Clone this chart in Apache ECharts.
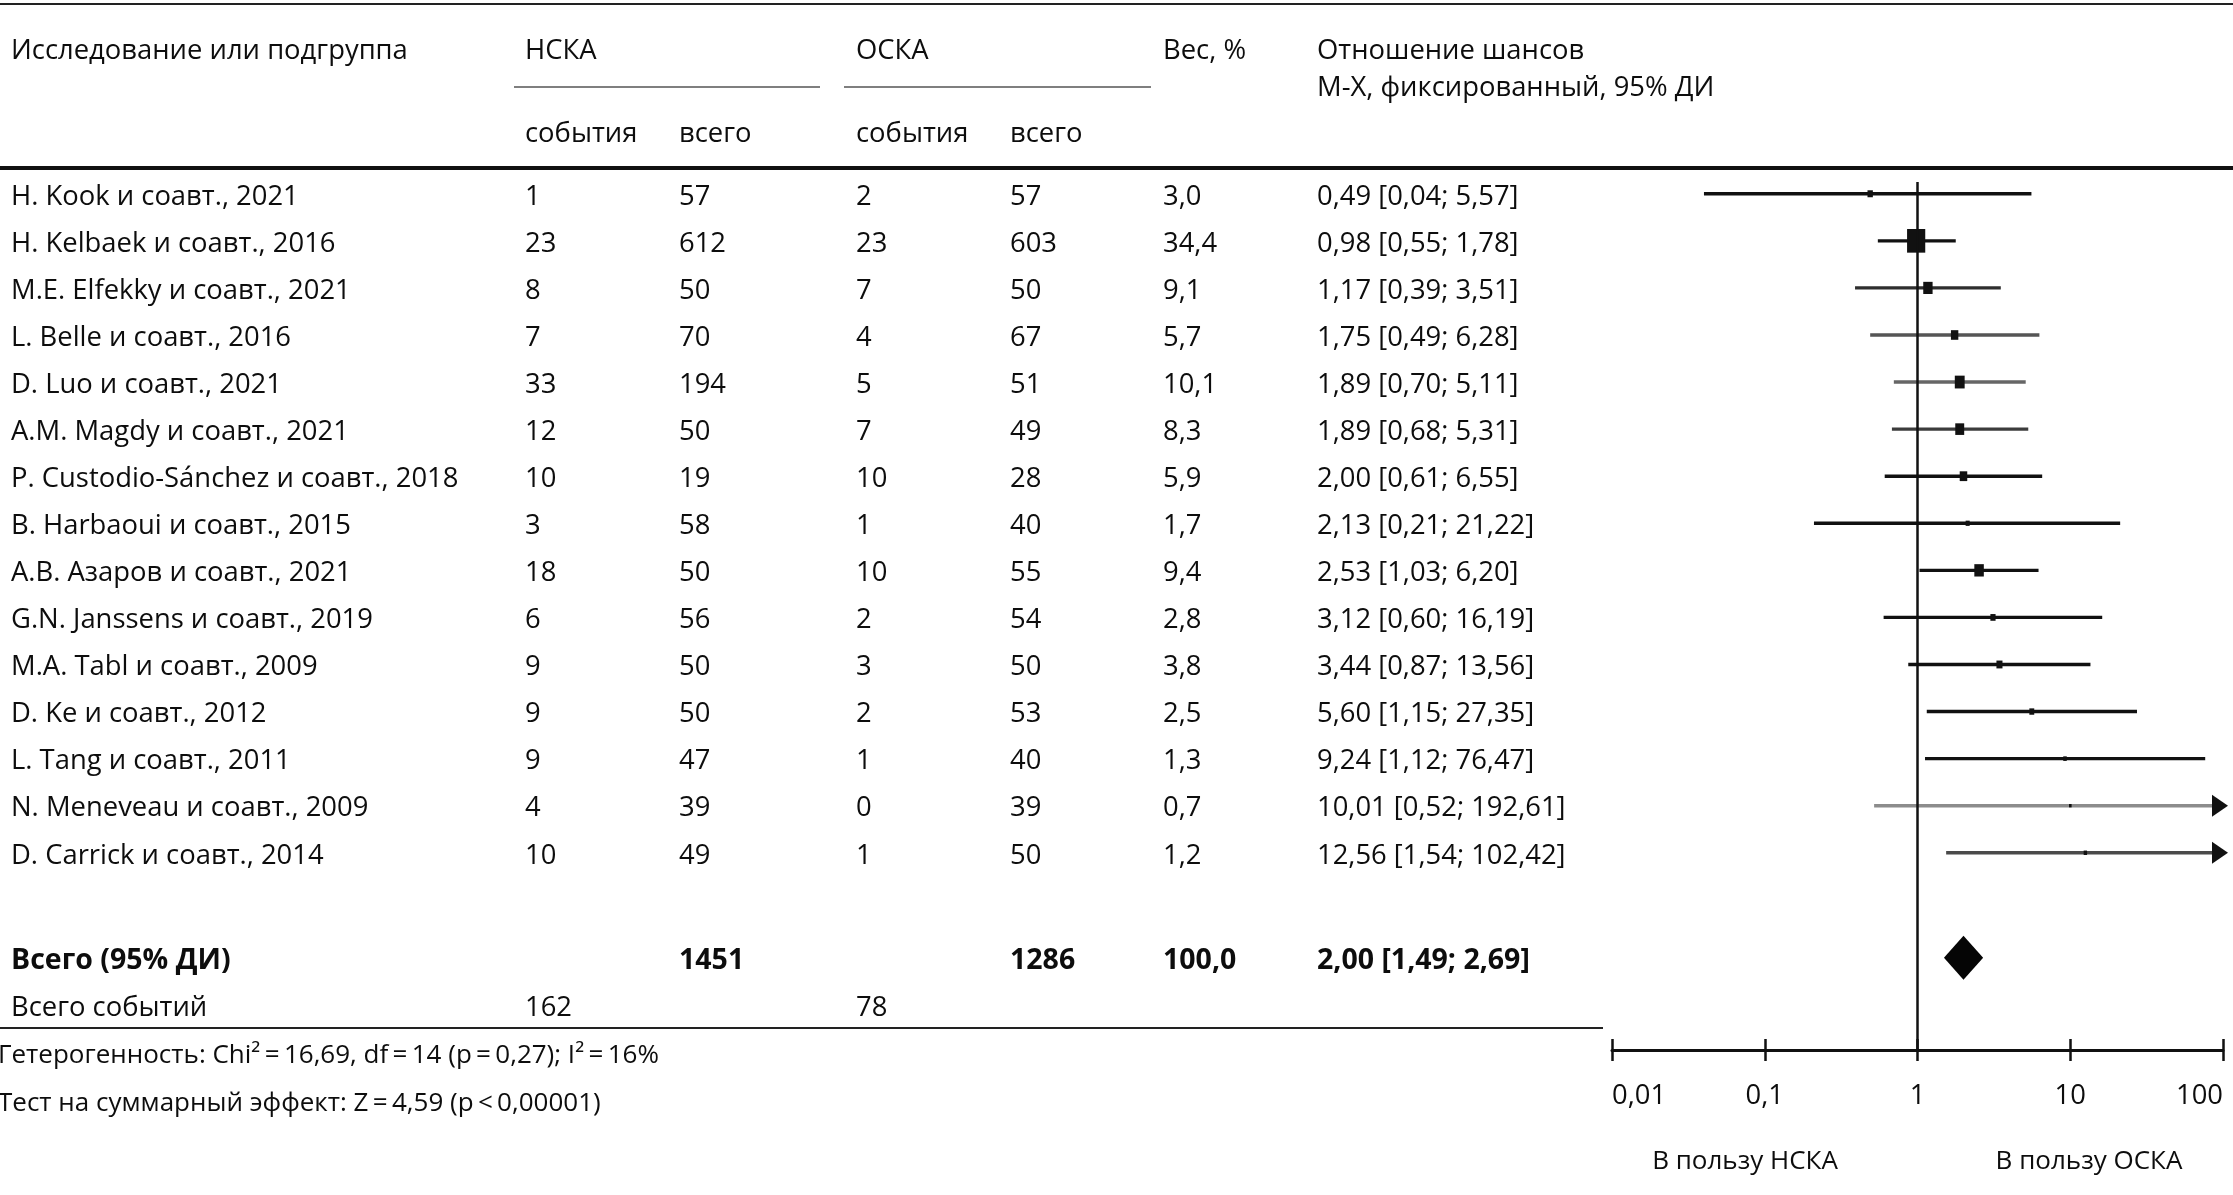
<!DOCTYPE html>
<html>
<head>
<meta charset="utf-8">
<script src="https://cdn.jsdelivr.net/npm/echarts@6/dist/echarts.min.js"></script>
<style>
html,body{margin:0;padding:0;background:#fff;}
#c{width:2233px;height:1195px;}
</style>
</head>
<body>
<div id="c"></div>
<script>
// ---------- DATA ----------
const studies = ['H. Kook и соавт., 2021','H. Kelbaek и соавт., 2016','M.E. Elfekky и соавт., 2021','L. Belle и соавт., 2016','D. Luo и соавт., 2021','A.M. Magdy и соавт., 2021','P. Custodio-Sánchez и соавт., 2018','B. Harbaoui и соавт., 2015','A.B. Азаров и соавт., 2021','G.N. Janssens и соавт., 2019','M.A. Tabl и соавт., 2009','D. Ke и соавт., 2012','L. Tang и соавт., 2011','N. Meneveau и соавт., 2009','D. Carrick и соавт., 2014'];
const nskaEvents = [1,23,8,7,33,12,10,3,18,6,9,9,9,4,10];
const nskaTotal  = [57,612,50,70,194,50,19,58,50,56,50,50,47,39,49];
const oskaEvents = [2,23,7,4,5,7,10,1,10,2,3,2,1,0,1];
const oskaTotal  = [57,603,50,67,51,49,28,40,55,54,50,53,40,39,50];
const weights    = [3.0,34.4,9.1,5.7,10.1,8.3,5.9,1.7,9.4,2.8,3.8,2.5,1.3,0.7,1.2];
const oddsRatio  = [0.49,0.98,1.17,1.75,1.89,1.89,2.00,2.13,2.53,3.12,3.44,5.60,9.24,10.01,12.56];
const ciLow      = [0.04,0.55,0.39,0.49,0.70,0.68,0.61,0.21,1.03,0.60,0.87,1.15,1.12,0.52,1.54];
const ciHigh     = [5.57,1.78,3.51,6.28,5.11,5.31,6.55,21.22,6.20,16.19,13.56,27.35,76.47,192.61,102.42];
const totalN     = [1451, 1286];
const totalEvents = [162, 78];
const totalWeight = 100.0;
const pooled     = [2.00, 1.49, 2.69];
const xTicks     = [0.01, 0.1, 1, 10, 100];

// ---------- STYLE ----------
const lineColors = ['#111','#111','#2e2e2e','#555','#666','#3c3c3c','#111','#111','#111','#111','#111','#111','#111','#8c8c8c','#4a4a4a'];
const FONT = "'Open Sans', 'Noto Sans', sans-serif";
const INK = '#0d0d0d';
const TOTAL_ROW = 16.23, EVENTS_ROW = 17.23;
const DY = 3;
const COLS = {study:11, ne:525, nt:679, oe:856, ot:1010, w:1163, or:1317};

const fmt = (v, d) => v.toFixed(d).replace('.', ',');
const orText = (o, l, h) => fmt(o,2) + ' [' + fmt(l,2) + '; ' + fmt(h,2) + ']';

function T(x, y, text, o) {
  o = o || {};
  return { type:'text', x:x, y:y + DY, silent:true, z: 10,
    style:{ text:String(text), fill:INK, fontSize:o.size||(o.bold?28.5:27.4), fontFamily:FONT,
      fontWeight:o.bold?'bold':'normal', textAlign:o.align||'left', textVerticalAlign:'middle' } };
}
function L(x1,y1,x2,y2,w,c){
  return { type:'line', silent:true, z: 10, shape:{x1:x1,y1:y1,x2:x2,y2:y2}, style:{stroke:c||'#111', lineWidth:w} };
}

const chart = echarts.init(document.getElementById('c'), null, {renderer:'canvas'});

const tableRows = studies.map((s,i)=>[1,i]).concat([[1,TOTAL_ROW],[1,EVENTS_ROW]]);

const option = {
  backgroundColor:'#fff',
  animation:false,
  grid:{left:1612, right:10, top:182, bottom:145},
  xAxis:[{
    type:'log', logBase:10, min:xTicks[0], max:xTicks[xTicks.length-1], position:'bottom',
    axisLine:{show:true, onZero:false, lineStyle:{color:'#111', width:3}},
    axisTick:{show:true, length:11, lineStyle:{color:'#111', width:2.5}},
    axisLabel:{show:true, fontSize:27.4, fontFamily:FONT, color:INK, margin:33,
      alignMinLabel:'left', alignMaxLabel:'right',
      formatter:function(v){ return String(parseFloat(Number(v).toPrecision(6))).replace('.', ','); }},
    splitLine:{show:false}
  },{
    type:'log', logBase:10, min:xTicks[0], max:xTicks[xTicks.length-1], position:'bottom',
    axisLine:{show:false, onZero:false},
    axisTick:{show:true, inside:true, length:11, lineStyle:{color:'#111', width:2.5}},
    axisLabel:{show:false}, splitLine:{show:false}
  }],
  yAxis:{type:'value', inverse:true, min:-0.25, max:18.19, show:false},
  series:[
    {
      name:'table', type:'custom', silent:true, z:5,
      data: tableRows,
      renderItem:function(params, api){
        const i = params.dataIndex;
        const y = api.coord([1, api.value(1)])[1];
        let ch;
        if (i < studies.length) {
          ch = [T(COLS.study,y,studies[i]), T(COLS.ne,y,nskaEvents[i]), T(COLS.nt,y,nskaTotal[i]),
                T(COLS.oe,y,oskaEvents[i]), T(COLS.ot,y,oskaTotal[i]), T(COLS.w,y,fmt(weights[i],1)),
                T(COLS.or,y,orText(oddsRatio[i],ciLow[i],ciHigh[i]))];
        } else if (i === studies.length) {
          ch = [T(COLS.study,y,'Всего (95% ДИ)',{bold:true}), T(COLS.nt,y,totalN[0],{bold:true}),
                T(COLS.ot,y,totalN[1],{bold:true}), T(COLS.w,y,fmt(totalWeight,1),{bold:true}),
                T(COLS.or,y,orText(pooled[0],pooled[1],pooled[2]),{bold:true})];
        } else {
          ch = [T(COLS.study,y,'Всего событий'), T(COLS.ne,y,totalEvents[0]), T(COLS.oe,y,totalEvents[1])];
        }
        return {type:'group', children:ch};
      }
    },
    {
      name:'studies', type:'custom', silent:true, z:3,
      data: studies.map((s,i)=>[oddsRatio[i], ciLow[i], ciHigh[i], weights[i], i]),
      encode:{x:0, y:4},
      renderItem:function(params, api){
        const i = params.dataIndex;
        const row = api.value(4);
        const y = api.coord([1,row])[1];
        const xMax = xTicks[xTicks.length-1];
        const hi = api.value(2);
        const clipped = hi > xMax;
        const x0 = api.coord([api.value(1), row])[0];
        const xEnd = api.coord([Math.min(hi, xMax), row])[0];
        const xo = api.coord([api.value(0), row])[0];
        const w = 3.1*Math.sqrt(api.value(3));
        const h = 1.3*w;
        const col = lineColors[i];
        const ch = [];
        ch.push({type:'line', shape:{x1:x0, y1:y, x2: clipped ? xEnd-10 : xEnd, y2:y},
          style:{stroke:col, lineWidth:3.4}});
        if (clipped) {
          ch.push({type:'polygon', shape:{points:[[xEnd-11,y-11],[xEnd+5,y],[xEnd-11,y+11]]}, style:{fill:'#111'}});
        }
        ch.push({type:'rect', shape:{x:xo-w/2, y:y-h/2, width:w, height:h}, style:{fill:'#111'}});
        return {type:'group', children:ch};
      }
    },
    {
      name:'pooled', type:'custom', silent:true, z:6,
      data:[[pooled[0], pooled[1], pooled[2], TOTAL_ROW]],
      encode:{x:0, y:3},
      renderItem:function(params, api){
        const row = api.value(3);
        const y = api.coord([1,row])[1];
        const xo = api.coord([api.value(0),row])[0];
        const xl = api.coord([api.value(1),row])[0];
        const xh = api.coord([api.value(2),row])[0];
        return {type:'polygon', shape:{points:[[xl,y],[xo,y-22],[xh,y],[xo,y+22]]}, style:{fill:'#050505'}};
      },
      markLine:{
        silent:true, symbol:['none','none'], z:8,
        lineStyle:{color:'#111', width:2.5, type:'solid'},
        label:{show:false},
        data:[{xAxis:1}]
      }
    }
  ],
  graphic:[
    L(0,4,2233,4,2,'#222'),
    L(0,168,2233,168,4,'#111'),
    L(514,87,820,87,1.6,'#555'),
    L(844,87,1151,87,1.6,'#555'),
    L(0,1028,1603,1028,2,'#222'),
    T(COLS.study,48,'Исследование или подгруппа'),
    T(COLS.ne,48,'НСКА'),
    T(COLS.oe,48,'ОСКА'),
    T(COLS.w,48,'Вес, %'),
    T(COLS.or,48,'Отношение шансов'),
    T(COLS.or,85,'М-Х, фиксированный, 95% ДИ'),
    T(COLS.ne,131,'события'),
    T(COLS.nt,131,'всего'),
    T(COLS.oe,131,'события'),
    T(COLS.ot,131,'всего'),
    T(-2,1053,'Гетерогенность: Chi\u00B2\u2009=\u200916,69, df\u2009=\u200914 (p\u2009=\u20090,27); I\u00B2\u2009=\u200916%',{size:26}),
    T(-2,1101,'Тест на суммарный эффект: Z\u2009=\u20094,59 (p\u2009<\u20090,00001)',{size:26}),
    T(1745,1159,'В пользу НСКА',{size:26, align:'center'}),
    T(2089,1159,'В пользу ОСКА',{size:26, align:'center'})
  ]
};
chart.setOption(option);
</script>
</body>
</html>
